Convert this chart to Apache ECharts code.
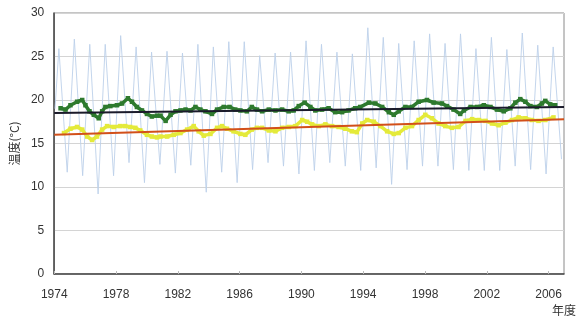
<!DOCTYPE html>
<html>
<head>
<meta charset="utf-8">
<script src="https://cdn.jsdelivr.net/npm/echarts@6/dist/echarts.min.js"></script>
<style>
  html, body { margin: 0; padding: 0; background: #fff; }
  #chart { width: 577px; height: 320px; }
</style>
</head>
<body>
<div id="chart"></div>
<script>
// 年ごとの最高・最低（月平均）
const years = []
for (let y = 1974; y <= 2006; y++) years.push(y)
const peaks = [25.9, 27.0, 26.4, 26.4, 27.4, 26.1, 25.5, 25.6, 25.4, 26.4, 26.1, 26.7, 26.7,
  25.1, 25.4, 25.5, 26.8, 26.4, 25.5, 25.3, 28.3, 27.2, 26.5, 26.8, 27.6, 26.5,
  27.6, 25.9, 27.2, 25.8, 27.7, 26.3, 26.1]
const troughs = [11.7, 11.3, 9.2, 11.3, 12.8, 10.5, 12.6, 11.6, 12.5, 9.4, 11.7, 10.5, 12.0,
  12.8, 12.4, 11.5, 11.9, 12.8, 12.4, 11.9, 12.2, 10.3, 12.0, 12.4, 12.4, 12.0,
  11.9, 11.9, 11.9, 12.4, 12.0, 11.5, 13.2]

// 移動平均（緑）
const greenData = [
  [1974.41, 19.05], [1974.73, 18.9], [1975.05, 19.4], [1975.48, 19.8], [1975.81, 20.0],
  [1976.02, 19.4], [1976.28, 18.7], [1976.56, 18.3], [1976.88, 17.9], [1977.10, 18.7],
  [1977.31, 19.2], [1977.63, 19.3], [1978.06, 19.4], [1978.39, 19.6], [1978.77, 20.2],
  [1979.03, 19.8], [1979.35, 19.2], [1979.68, 18.8], [1980.00, 18.4], [1980.32, 18.1],
  [1980.65, 18.2], [1980.88, 18.2], [1981.21, 17.6], [1981.53, 18.3], [1981.85, 18.7],
  [1982.17, 18.8], [1982.50, 18.9], [1982.82, 18.8], [1983.14, 19.2], [1983.46, 18.9],
  [1983.79, 18.7], [1984.21, 18.4], [1984.54, 18.9], [1984.97, 19.2], [1985.35, 19.2],
  [1985.72, 18.9], [1986.05, 18.8], [1986.47, 18.7], [1986.79, 19.2], [1987.12, 18.9],
  [1987.46, 18.7], [1987.89, 18.9], [1988.32, 18.8], [1988.75, 18.9], [1989.18, 18.7],
  [1989.50, 18.8], [1989.83, 19.3], [1990.21, 19.7], [1990.58, 19.2], [1990.90, 18.8],
  [1991.34, 18.9], [1991.76, 19.05], [1992.19, 18.6], [1992.63, 18.6], [1993.05, 18.8],
  [1993.48, 19.05], [1993.81, 19.2], [1994.37, 19.7], [1994.79, 19.6], [1995.23, 19.2],
  [1995.66, 18.6], [1995.98, 18.3], [1996.30, 18.7], [1996.73, 19.2], [1997.16, 19.2],
  [1997.59, 19.8], [1998.13, 20.0], [1998.56, 19.7], [1999.10, 19.6], [1999.42, 19.3],
  [1999.85, 18.9], [2000.28, 18.4], [2000.52, 18.8], [2000.95, 19.2], [2001.37, 19.2],
  [2001.81, 19.4], [2002.24, 19.2], [2002.66, 18.9], [2003.10, 18.7], [2003.53, 19.05],
  [2003.85, 19.7], [2004.17, 20.1], [2004.50, 19.8], [2004.82, 19.3], [2005.25, 19.2],
  [2005.57, 19.6], [2005.79, 19.9], [2006.11, 19.5], [2006.43, 19.4]
]

// 移動平均（黄）
const yellowData = [
  [1974.63, 16.2], [1975.05, 16.7], [1975.48, 16.9], [1975.81, 16.6], [1976.13, 15.8],
  [1976.45, 15.4], [1976.77, 15.8], [1977.10, 16.6], [1977.42, 17.0], [1977.85, 16.9],
  [1978.28, 17.0], [1978.60, 17.0], [1978.92, 16.9], [1979.25, 16.8], [1979.57, 16.5],
  [1980.00, 16.0], [1980.32, 15.8], [1980.65, 15.7], [1980.88, 15.8], [1981.31, 15.8],
  [1981.74, 16.0], [1982.17, 16.2], [1982.60, 16.6], [1983.03, 17.0], [1983.35, 16.4],
  [1983.68, 15.9], [1984.11, 16.1], [1984.54, 16.8], [1984.86, 17.0], [1985.18, 16.7],
  [1985.61, 16.4], [1986.05, 16.1], [1986.37, 16.0], [1986.79, 16.6], [1987.12, 16.8],
  [1987.46, 16.8], [1987.89, 16.5], [1988.32, 16.4], [1988.75, 16.8], [1989.18, 16.9],
  [1989.61, 17.0], [1990.05, 17.7], [1990.37, 17.5], [1990.69, 17.2], [1991.12, 17.0],
  [1991.55, 17.2], [1991.98, 17.0], [1992.41, 16.9], [1992.84, 16.7], [1993.27, 16.4],
  [1993.59, 16.3], [1993.94, 17.3], [1994.26, 17.7], [1994.69, 17.5], [1995.12, 17.0],
  [1995.55, 16.4], [1995.98, 16.1], [1996.30, 16.2], [1996.73, 16.8], [1997.16, 17.0],
  [1997.59, 17.7], [1998.02, 18.3], [1998.45, 17.9], [1998.88, 17.3], [1999.31, 17.0],
  [1999.74, 16.8], [2000.17, 16.9], [2000.63, 17.6], [2001.05, 17.8], [2001.48, 17.7],
  [2001.92, 17.6], [2002.34, 17.3], [2002.77, 17.1], [2003.21, 17.4], [2003.63, 17.7],
  [2004.06, 18.0], [2004.50, 17.9], [2004.92, 17.7], [2005.35, 17.6], [2005.79, 17.7],
  [2006.32, 18.0]
]

// 回帰直線
const trendX = [1974, 2007]
const blackTrend = [18.5, 19.2]
const redTrend = [16.0, 17.8]

const yTicks = [0, 5, 10, 15, 20, 25, 30]

const monthly = [[1974.05, 19.0]]
years.forEach((y, i) => {
  monthly.push([y + 0.3, peaks[i]])
  monthly.push([y + 0.84, troughs[i]])
})

const chart = echarts.init(document.getElementById('chart'))
chart.setOption({
  animation: false,
  textStyle: { fontFamily: 'Liberation Sans, Arial, sans-serif' },
  grid: {
    left: 52, right: 13, top: 13, bottom: 46,
    show: true, borderColor: '#8a8a8a', borderWidth: 1
  },
  graphic: [{
    type: 'text', left: 552, top: 304,
    style: { text: '年度', fontSize: 12, fill: '#333', fontFamily: 'Noto Sans CJK JP' }
  }],
  xAxis: {
    type: 'value',
    min: 1974, max: 2007, interval: 4,
    axisLine: { lineStyle: { color: '#444', width: 1.5 } },
    axisTick: { show: true, inside: true, length: 3, lineStyle: { color: '#bbb' } },
    axisLabel: { color: '#333', fontSize: 12, margin: 15, showMaxLabel: false, formatter: v => String(v) },
    splitLine: { show: false }
  },
  yAxis: {
    type: 'value',
    min: yTicks[0], max: yTicks[yTicks.length - 1], interval: 5,
    name: '温度(°C)', nameLocation: 'middle', nameGap: 29,
    nameTextStyle: { fontSize: 12, color: '#333', fontFamily: 'Noto Sans CJK JP' },
    axisLine: { show: true, lineStyle: { color: '#444', width: 1.5 } },
    axisTick: { show: false },
    axisLabel: { color: '#333', fontSize: 12, margin: 10 },
    splitLine: { lineStyle: { color: '#d4d4d4' } }
  },
  series: [
    {
      name: 'monthly', type: 'line', data: monthly,
      showSymbol: false, lineStyle: { color: '#bcd0ea', width: 0.9 }, z: 1
    },
    {
      name: 'green', type: 'line', data: greenData,
      symbol: 'rect', symbolSize: 4.5, showAllSymbol: true,
      itemStyle: { color: '#2e7a2e' },
      lineStyle: { color: '#2e7a2e', width: 3.5 }, z: 2
    },
    {
      name: 'yellow', type: 'line', data: yellowData,
      symbol: 'rect', symbolSize: 4.5, showAllSymbol: true,
      itemStyle: { color: '#e4ea3a' },
      lineStyle: { color: '#e4ea3a', width: 3.5 }, z: 2
    },
    {
      name: 'blackTrend', type: 'line',
      data: trendX.map((x, i) => [x, blackTrend[i]]),
      showSymbol: false, lineStyle: { color: '#1b1b2b', width: 2 }, z: 3
    },
    {
      name: 'redTrend', type: 'line',
      data: trendX.map((x, i) => [x, redTrend[i]]),
      showSymbol: false, lineStyle: { color: '#d2501a', width: 2 }, z: 3
    }
  ]
})
</script>
</body>
</html>
